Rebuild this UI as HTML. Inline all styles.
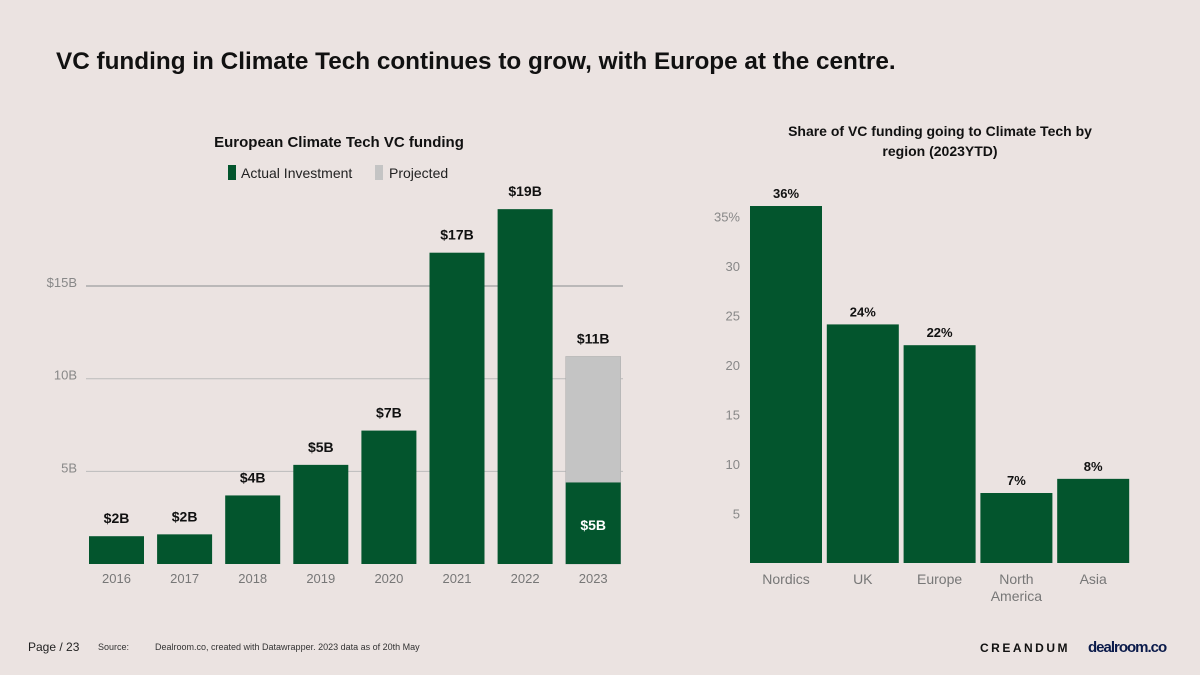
<!DOCTYPE html>
<html><head><meta charset="utf-8"><style>
body{margin:0;width:1200px;height:675px;background:#ebe3e1;font-family:"Liberation Sans",sans-serif;overflow:hidden}
svg{position:absolute;left:0;top:0}
</style></head><body>
<svg id="s" width="1200" height="675">
<text x="56" y="69" font-size="24.3" font-weight="bold" fill="#111">VC funding in Climate Tech continues to grow, with Europe at the centre.</text>
<text x="339" y="147" font-size="15" font-weight="bold" text-anchor="middle" fill="#111">European Climate Tech VC funding</text>
<rect x="228" y="165" width="8" height="15" fill="#03552d"/>
<text x="241" y="178" font-size="14" fill="#222">Actual Investment</text>
<rect x="375" y="165" width="8" height="15" fill="#c4c4c4"/>
<text x="389" y="178" font-size="14" fill="#222">Projected</text>
<text x="940" y="136" font-size="14" font-weight="bold" text-anchor="middle" fill="#111">Share of VC funding going to Climate Tech by</text>
<text x="940" y="156" font-size="14" font-weight="bold" text-anchor="middle" fill="#111">region (2023YTD)</text>
<g id="left"></g><g id="right"></g>
<text x="28" y="651" font-size="12" fill="#222">Page / 23</text>
<text x="98" y="650" font-size="9" fill="#333">Source:</text>
<text x="155" y="650" font-size="9" fill="#333">Dealroom.co, created with Datawrapper. 2023 data as of 20th May</text>
<text x="980" y="652" font-size="12" font-weight="bold" letter-spacing="2.5" fill="#111">CREANDUM</text>
<text x="1088" y="652" font-size="15" font-weight="bold" letter-spacing="-1" fill="#0a1a4a">dealroom.co</text>
</svg>
<script>
const years=["2016","2017","2018","2019","2020","2021","2022","2023"];
const actual=[1.5,1.6,3.7,5.35,7.2,16.8,19.15,4.4];
const projected=[0,0,0,0,0,0,0,11.2];
const valueLabels=["$2B","$2B","$4B","$5B","$7B","$17B","$19B","$11B"];
const actualInnerLabels=["","","","","","","","$5B"];
const leftTicks=[5,10,15];
const leftTickLabels=["5B","10B","$15B"];
const regions=["Nordics","UK","Europe","North America","Asia"];
const shares=[36.06,24.1,22,7.07,8.5];
const shareLabels=["36%","24%","22%","7%","8%"];
const rightTicks=[5,10,15,20,25,30,35];
const rightTickLabels=["5","10","15","20","25","30","35%"];
const NS="http://www.w3.org/2000/svg";
function mk(p,t,a,txt){const e=document.createElementNS(NS,t);for(const k in a)e.setAttribute(k,a[k]);if(txt!=null)e.textContent=txt;p.appendChild(e);return e;}
const G="#03552d";
const L=document.getElementById('left');
const ly=v=>564-v*18.53, lx=i=>89+i*68.1;
leftTicks.forEach((t,i)=>{
 const g=mk(L,'line',{x1:86,x2:623,y1:ly(t),y2:ly(t),stroke:t==15?'#aaa':'#bbb','stroke-width':t==15?1.5:1});
 
 
 const tx=mk(L,'text',{x:77,y:ly(t)+1,'font-size':13,fill:'#888','text-anchor':'end'},leftTickLabels[i]);
 
 
});
years.forEach((y,i)=>{
 const x=lx(i),w=55;
 if(projected[i]>0){const p=mk(L,'rect',{x:x,y:ly(projected[i]),width:w,height:ly(0)-ly(projected[i]),fill:'#c4c4c4',stroke:'#aaa','stroke-width':0.5});
 
 }
 const r=mk(L,'rect',{x:x,y:ly(actual[i]),width:w,height:ly(0)-ly(actual[i]),fill:G});
 
 
 const top=Math.max(actual[i],projected[i]);
 const vl=mk(L,'text',{x:x+w/2,y:ly(top)-13,'font-size':14,'font-weight':'bold','text-anchor':'middle',fill:'#111'},valueLabels[i]);
 
 
 const xl=mk(L,'text',{x:x+w/2,y:583,'font-size':13,'text-anchor':'middle',fill:'#777'},y);
 
 
 if(actualInnerLabels[i]){const il=mk(L,'text',{x:x+w/2,y:530,'font-size':14,'font-weight':'bold','text-anchor':'middle',fill:'#fff'},actualInnerLabels[i]);
 
 }
});
const R=document.getElementById('right');
const ry=v=>563-v*9.9, rx=i=>750+i*76.8;
rightTicks.forEach((t,i)=>{
 const tx=mk(R,'text',{x:740,y:ry(t)+5,'font-size':13,fill:'#888','text-anchor':'end'},rightTickLabels[i]);
 
 
});
regions.forEach((n,i)=>{
 const x=rx(i),w=72;
 const r=mk(R,'rect',{x:x,y:ry(shares[i]),width:w,height:ry(0)-ry(shares[i]),fill:G});
 
 
 const vl=mk(R,'text',{x:x+w/2,y:ry(shares[i])-8,'font-size':13,'font-weight':'bold','text-anchor':'middle',fill:'#111'},shareLabels[i]);
 
 
 n.split(' ').forEach((p,j)=>{const xl=mk(R,'text',{x:x+w/2,y:584+j*17,'font-size':14,'text-anchor':'middle',fill:'#777'},p);
 
 });
});
</script>
</body></html>
